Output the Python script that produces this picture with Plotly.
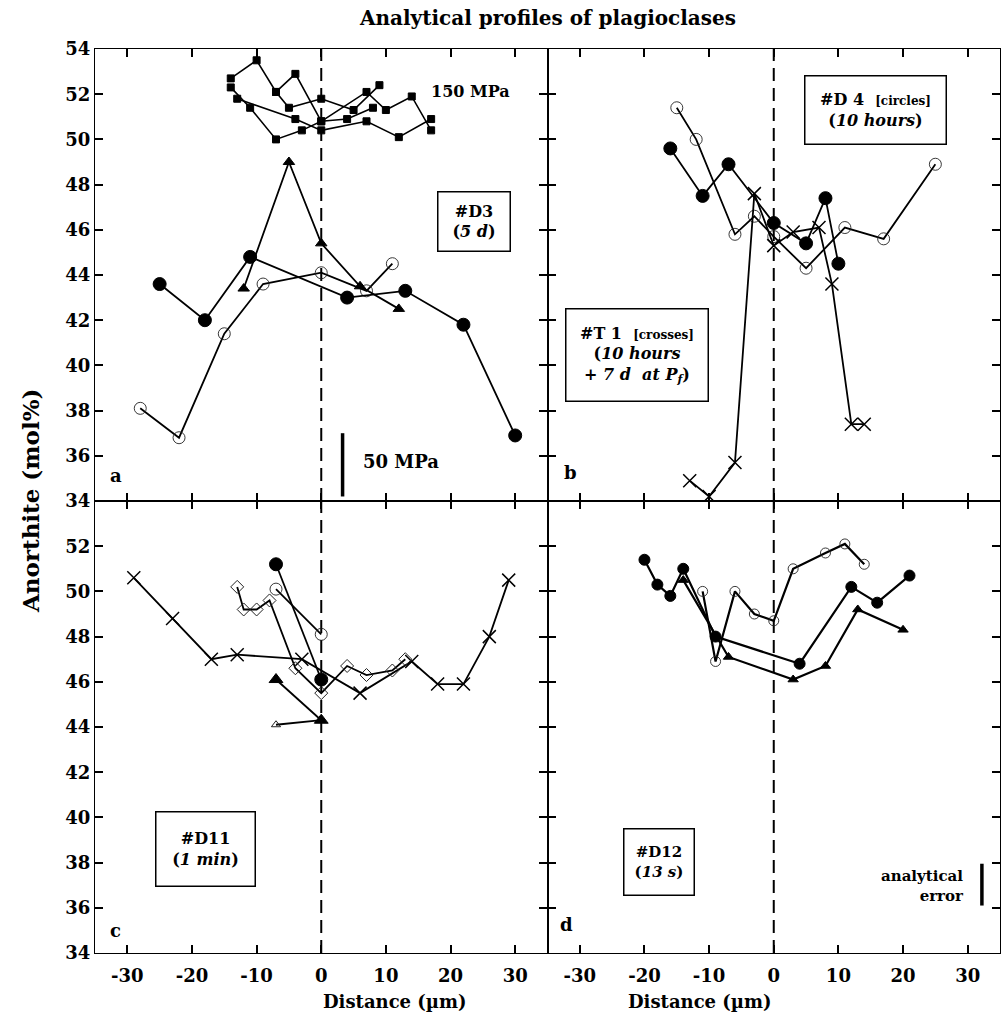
import plotly.graph_objects as go

# ---------------- data ----------------
# Panel a (#D3, 5 d) and 150 MPa squares
a_sq1_x = [-14, -10, -7, -5, 0, 5, 9]
a_sq1_y = [52.7, 53.5, 52.1, 51.4, 51.8, 51.3, 52.4]
a_sq2_x = [-7, -4, 0, 7, 10, 14, 17]
a_sq2_y = [52.1, 52.9, 50.8, 52.1, 51.3, 51.9, 50.4]
a_sq3_x = [-14, -11, -7, -3, 0, 4, 8]
a_sq3_y = [52.3, 51.4, 50.0, 50.4, 50.8, 50.9, 51.4]
a_sq4_x = [-13, -4, 0, 7, 12, 17]
a_sq4_y = [51.8, 50.9, 50.4, 50.8, 50.1, 50.9]
a_fc_x = [-25, -18, -11, 4, 13, 22, 30]
a_fc_y = [43.6, 42.0, 44.8, 43.0, 43.3, 41.8, 36.9]
a_oc_x = [-28, -22, -15, -9, 0, 7, 11]
a_oc_y = [38.1, 36.8, 41.4, 43.6, 44.1, 43.3, 44.5]
a_tr_x = [-12, -5, 0, 6, 12]
a_tr_y = [43.4, 49.0, 45.4, 43.5, 42.5]

# Panel b (#D4 circles, #T1 crosses)
b_oc_x = [-15, -12, -6, -3, 0, 5, 11, 17, 25]
b_oc_y = [51.4, 50.0, 45.8, 46.6, 45.7, 44.3, 46.1, 45.6, 48.9]
b_fc_x = [-16, -11, -7, 0, 5, 8, 10]
b_fc_y = [49.6, 47.5, 48.9, 46.3, 45.4, 47.4, 44.5]
b_x_x = [-13, -10, -6, -3, 0, 3, 7, 9, 12, 14]
b_x_y = [34.9, 34.2, 35.7, 47.6, 45.3, 45.9, 46.1, 43.6, 37.4, 37.4]

# Panel c (#D11, 1 min)
c_x_x = [-29, -23, -17, -13, -3, 6, 14, 18, 22, 26, 29]
c_x_y = [50.6, 48.8, 47.0, 47.2, 47.0, 45.5, 46.9, 45.9, 45.9, 48.0, 50.5]
c_di_x = [-13, -12, -10, -8, -4, 0, 4, 7, 11, 13]
c_di_y = [50.2, 49.2, 49.2, 49.6, 46.6, 45.5, 46.7, 46.3, 46.5, 47.0]
c_fc_x = [-7, 0]
c_fc_y = [51.2, 46.1]
c_oc_x = [-7, 0]
c_oc_y = [50.1, 48.1]
c_ft_x = [-7, 0]
c_ft_y = [46.1, 44.3]
c_ot_x = [-7, 0]
c_ot_y = [44.1, 44.3]

# Panel d (#D12, 13 s)
d_fc_x = [-20, -18, -16, -14, -9, 4, 12, 16, 21]
d_fc_y = [51.4, 50.3, 49.8, 51.0, 48.0, 46.8, 50.2, 49.5, 50.7]
d_oc_x = [-11, -9, -6, -3, 0, 3, 8, 11, 14]
d_oc_y = [50.0, 46.9, 50.0, 49.0, 48.7, 51.0, 51.7, 52.1, 51.2]
d_tr_x = [-14, -7, 3, 8, 13, 20]
d_tr_y = [50.5, 47.1, 46.1, 46.7, 49.2, 48.3]

x_ticks = [-30, -20, -10, 0, 10, 20, 30]
x_tick_text = ["-30", "-20", "-10", "0", "10", "20", "30"]
y_ticks_top = [34, 36, 38, 40, 42, 44, 46, 48, 50, 52, 54]
y_ticks_bot = [34, 36, 38, 40, 42, 44, 46, 48, 50, 52]

FONT = "DejaVu Serif"
fig = go.Figure()

def add(xs, ys, sym, size, axis, lw=1.8, mlw=1.0, mcolor="black"):
    xa, ya = axis
    fig.add_trace(go.Scatter(
        x=xs, y=ys, mode="lines+markers", xaxis=xa, yaxis=ya,
        line=dict(color="black", width=lw),
        marker=dict(symbol=sym, size=size, color=mcolor,
                    line=dict(color="black", width=mlw)),
        showlegend=False, hoverinfo="skip"))

A = ("x", "y"); B = ("x2", "y2"); C = ("x3", "y3"); D = ("x4", "y4")

for xs, ys in [(a_sq1_x, a_sq1_y), (a_sq2_x, a_sq2_y), (a_sq3_x, a_sq3_y), (a_sq4_x, a_sq4_y)]:
    add(xs, ys, "square", 7, A, lw=1.6)
add(a_oc_x, a_oc_y, "circle-open", 12, A, mcolor="#222", mlw=0.9)
add(a_fc_x, a_fc_y, "circle", 13, A)
add(a_tr_x, a_tr_y, "triangle-up", 10, A)

add(b_oc_x, b_oc_y, "circle-open", 12, B, mcolor="#222", mlw=0.9)
add(b_fc_x, b_fc_y, "circle", 13, B)
add(b_x_x, b_x_y, "x-thin-open", 13, B, mlw=1.5)

add(c_x_x, c_x_y, "x-thin-open", 13, C, mlw=1.5)
add(c_di_x, c_di_y, "diamond-open", 10, C, mcolor="#222", mlw=1.0)
add(c_fc_x, c_fc_y, "circle", 13, C)
add(c_oc_x, c_oc_y, "circle-open", 12, C, mcolor="#222", mlw=0.9)
add(c_ot_x, c_ot_y, "triangle-up-open", 8, C, mcolor="#222", mlw=1.0)
add(c_ft_x, c_ft_y, "triangle-up", 12, C)

add(d_oc_x, d_oc_y, "circle-open", 10, D, lw=2.2, mcolor="#222", mlw=0.9)
add(d_fc_x, d_fc_y, "circle", 11, D, lw=2.2)
add(d_tr_x, d_tr_y, "triangle-up", 9, D, lw=2.2)

# ---------------- axes ----------------
tfont = dict(family=FONT, size=18, color="black")
common = dict(range=[-35, 35], ticks="inside", ticklen=8, tickwidth=1.5,
              tickcolor="black", showline=True, linecolor="black", linewidth=1.2,
              mirror="ticks", showgrid=False, zeroline=False,
              tickvals=x_ticks, ticktext=["<b>%s</b>" % t for t in x_tick_text],
              ticklabelstandoff=6, tickfont=tfont)
ycommon = dict(range=[34, 54], ticks="inside", ticklen=8, tickwidth=1.5,
               tickcolor="black", showline=True, linecolor="black", linewidth=1.2,
               mirror="ticks", showgrid=False, zeroline=False, tickfont=tfont)

def ylab(vals):
    return dict(tickvals=vals, ticktext=["<b>%d</b>" % v for v in vals])

fig.update_layout(
    xaxis=dict(common, domain=[0, 0.5], anchor="y", showticklabels=False),
    yaxis=dict(ycommon, domain=[0.5, 1], anchor="x", **ylab(y_ticks_top)),
    xaxis2=dict(common, domain=[0.5, 1], anchor="y2", showticklabels=False),
    yaxis2=dict(ycommon, domain=[0.5, 1], anchor="x2", showticklabels=False, **ylab(y_ticks_top)),
    xaxis3=dict(common, domain=[0, 0.5], anchor="y3"),
    yaxis3=dict(ycommon, domain=[0, 0.5], anchor="x3", **ylab(y_ticks_bot)),
    xaxis4=dict(common, domain=[0.5, 1], anchor="y4"),
    yaxis4=dict(ycommon, domain=[0, 0.5], anchor="x4", showticklabels=False, **ylab(y_ticks_bot)),
)

shapes = []
for xr, yr in [("x", "y"), ("x2", "y2"), ("x3", "y3"), ("x4", "y4")]:
    shapes.append(dict(type="line", xref=xr, yref=yr, x0=0, x1=0, y0=34, y1=54,
                       line=dict(color="black", width=2, dash="13px,7px"), layer="below"))
# 50 MPa scale bar and analytical error bar
shapes.append(dict(type="line", xref="x", yref="y", x0=3.3, x1=3.3, y0=34.2, y1=37.0,
                   line=dict(color="black", width=3.5)))
shapes.append(dict(type="line", xref="x4", yref="y4", x0=32.2, x1=32.2, y0=36.1, y1=37.95,
                   line=dict(color="black", width=3.5)))

ann = []
def note(text, x, y, xr, yr, size=18, box=None, **kw):
    d = dict(text=text, x=x, y=y, xref=xr, yref=yr, showarrow=False,
             font=dict(family=FONT, size=size, color="black"))
    if box:
        w, h = box
        d.update(bordercolor="black", borderwidth=1.5, bgcolor="white", borderpad=2,
                 width=w - 7, height=h - 7, valign="middle")
    d.update(kw)
    ann.append(d)

note("<b>150 MPa</b>", 23.1, 52.1, "x", "y", size=16)
note("<b>#D3<br>(<i>5 d</i>)</b>", 23.6, 46.38, "x", "y", size=16, box=(74, 61))
note("<b>50 MPa</b>", 12.4, 35.77, "x", "y", size=18)
note("<b>a</b>", -31.8, 35.12, "x", "y", size=18)
note("<b>#D 4  <span style='font-size:12px'>[circles]</span><br>(<i>10 hours</i>)</b>",
     15.8, 51.28, "x2", "y2", size=16, box=(143, 70))
note("<b>#T 1  <span style='font-size:12px'>[crosses]</span><br>(<i>10 hours</i><br><i>+ 7 d  at P<sub>f</sub></i>)</b>",
     -21.15, 40.46, "x2", "y2", size=16, box=(144, 94))
note("<b>b</b>", -31.4, 35.26, "x2", "y2", size=18)
note("<b>#D11<br>(<i>1 min</i>)</b>", -17.9, 38.61, "x3", "y3", size=16, box=(101, 76))
note("<b>c</b>", -31.9, 35.0, "x3", "y3", size=18)
note("<b>#D12<br>(<i>13 s</i>)</b>", -17.7, 38.01, "x4", "y4", size=15, box=(72, 68))
note("<b>analytical<br>error</b>", 29.8, 36.95, "x4", "y4", size=15, xanchor="right", align="right")
note("<b>d</b>", -32.1, 35.26, "x4", "y4", size=18)

note("<b>Distance (µm)</b>", 0.25, -0.054, "paper", "paper", size=18, yanchor="middle")
note("<b>Distance (µm)</b>", 0.75, -0.054, "paper", "paper", size=18, yanchor="middle")
note("<b>Anorthite (mol%)</b>", -0.0718, 0.5, "paper", "paper", size=23, textangle=-90,
     xanchor="center", yanchor="middle")
note("<b>Analytical profiles of plagioclases</b>", 0.5, 1.034, "paper", "paper", size=20, yanchor="middle")

fig.update_layout(
    width=1005, height=1016,
    margin=dict(l=95, r=5, t=49, b=63),
    paper_bgcolor="white", plot_bgcolor="white",
    shapes=shapes, annotations=ann,
    font=dict(family=FONT, color="black"),
)

fig.write_html("out.html", config={"displayModeBar": False},
               post_script="document.body.style.margin='0';document.body.style.overflow='hidden';")
